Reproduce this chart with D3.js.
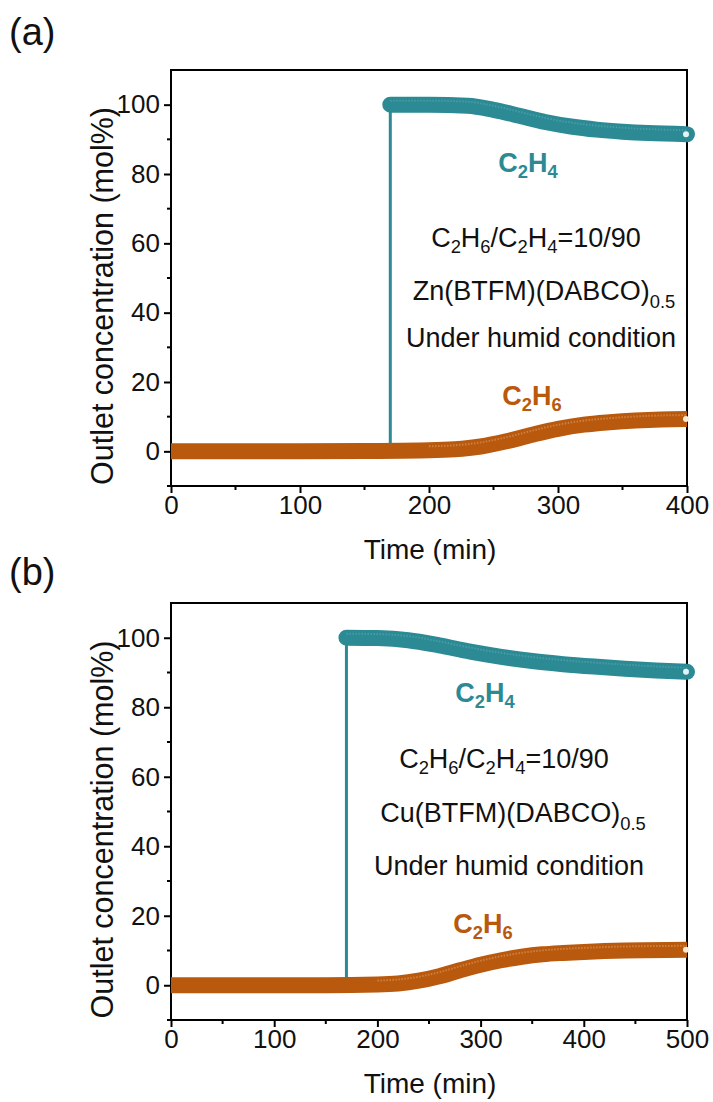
<!DOCTYPE html>
<html><head><meta charset="utf-8">
<script src="https://cdn.jsdelivr.net/npm/d3@7"></script>
<style>body{margin:0;background:#fff}svg{display:block;font-family:"Liberation Sans",Arial,sans-serif}</style>
</head><body>
<svg id="c" width="713" height="1102"></svg>
<script>
// Panel (a): Zn(BTFM)(DABCO)0.5
const a_c2h6_t = [0, 50, 100, 150, 200, 220, 240, 260, 280, 300, 320, 340, 360, 380, 400];
const a_c2h6_v = [0, 0, 0, 0.1, 0.3, 0.6, 1.4, 2.9, 4.8, 6.5, 7.7, 8.4, 8.9, 9.2, 9.3];
const a_c2h4_t = [170, 200, 230, 250, 270, 290, 310, 330, 350, 370, 400];
const a_c2h4_v = [100, 100, 99.7, 98.5, 96.8, 95.0, 93.7, 92.8, 92.2, 91.8, 91.5];
// Panel (b): Cu(BTFM)(DABCO)0.5
const b_c2h6_t = [0, 50, 100, 150, 200, 220, 240, 260, 280, 300, 320, 340, 360, 380, 400, 440, 500];
const b_c2h6_v = [0, 0, 0, 0, 0.2, 0.5, 1.3, 2.6, 4.3, 5.9, 7.2, 8.2, 8.9, 9.3, 9.6, 10.0, 10.2];
const b_c2h4_t = [170, 200, 230, 260, 290, 320, 350, 380, 410, 440, 470, 500];
const b_c2h4_v = [100, 99.9, 99.3, 97.8, 96.0, 94.5, 93.3, 92.4, 91.7, 91.1, 90.6, 90.2];
const breakthroughTime = 170;
const yTicks = [0, 20, 40, 60, 80, 100];
const aXTicks = [0, 100, 200, 300, 400];
const bXTicks = [0, 100, 200, 300, 400, 500];

const TEAL = "#2b8a94", ORANGE = "#b9590d";
const svg = d3.select("#c");

function panel(o) {
  const x = d3.scaleLinear().domain(o.xDomain).range([171, 687]);
  const y = d3.scaleLinear().domain([-10, 110]).range([o.bottom, o.top]);
  const g = svg.append("g");
  g.append("rect").attr("x", 171).attr("y", o.top).attr("width", 516).attr("height", o.bottom - o.top)
    .attr("fill", "none").attr("stroke", "#000").attr("stroke-width", 2);
  const xStep = o.xTicks[1] - o.xTicks[0];
  const xMinor = o.xTicks.slice(0, -1).map(t => t + xStep / 2);
  g.selectAll(".xm").data(xMinor).join("line").attr("x1", d => x(d)).attr("x2", d => x(d))
    .attr("y1", o.bottom).attr("y2", o.bottom + 4).attr("stroke", "#000").attr("stroke-width", 2);
  const yMinor = [-10, 10, 30, 50, 70, 90];
  g.selectAll(".ym").data(yMinor).join("line").attr("y1", d => y(d)).attr("y2", d => y(d))
    .attr("x1", 171).attr("x2", 167).attr("stroke", "#000").attr("stroke-width", 2);
  const xa = g.append("g").attr("transform", `translate(0,${o.bottom})`)
    .call(d3.axisBottom(x).tickValues(o.xTicks).tickSize(7).tickPadding(3).tickFormat(d3.format("d")));
  const ya = g.append("g").attr("transform", `translate(171,0)`)
    .call(d3.axisLeft(y).tickValues(yTicks).tickSize(7).tickPadding(4).tickFormat(d3.format("d")));
  [xa, ya].forEach(a => {
    a.select(".domain").remove();
    a.selectAll("line").attr("stroke-width", 2);
    a.selectAll("text").attr("font-size", 26).attr("fill", "#111").attr("font-family", "Liberation Sans, Arial, sans-serif");
  });
  g.append("text").attr("x", 430).attr("y", o.bottom + 73).attr("text-anchor", "middle")
    .attr("font-size", 28).attr("fill", "#111").text("Time (min)");
  g.append("text").attr("transform", `translate(113,${(o.top + o.bottom) / 2 + 18}) rotate(-90)`)
    .attr("text-anchor", "middle").attr("font-size", 30.5).attr("fill", "#111").text("Outlet concentration (mol%)");
  g.append("text").attr("x", 9).attr("y", o.tagY).attr("font-size", 38).attr("fill", "#111").text(o.tag);

  const line = d3.line().x(d => x(d[0])).y(d => y(d[1])).curve(d3.curveMonotoneX);
  const c2h6 = d3.zip(o.c2h6t, o.c2h6v);
  const c2h4 = d3.zip(o.c2h4t, o.c2h4v);
  g.append("line").attr("x1", x(breakthroughTime)).attr("x2", x(breakthroughTime))
    .attr("y1", y(0)).attr("y2", y(100)).attr("stroke", TEAL).attr("stroke-width", 3);
  g.append("path").attr("d", line(c2h6)).attr("fill", "none").attr("stroke", ORANGE)
    .attr("stroke-width", 16).attr("stroke-linecap", "butt");
  g.append("path").attr("d", line(c2h6.filter(d => d[0] >= 160))).attr("fill", "none")
    .attr("stroke", "#d68a4a").attr("stroke-width", 2).attr("stroke-dasharray", "1.5,1.5")
    .attr("transform", "translate(0,-4)").attr("opacity", 0.8);
  g.append("path").attr("d", line(c2h4)).attr("fill", "none").attr("stroke", TEAL)
    .attr("stroke-width", 16).attr("stroke-linecap", "round");
  g.append("path").attr("d", line(c2h4)).attr("fill", "none")
    .attr("stroke", "#5aa9b0").attr("stroke-width", 2).attr("stroke-dasharray", "1.5,1.5")
    .attr("transform", "translate(0,-4)").attr("opacity", 0.6);
  const e6 = c2h6[c2h6.length - 1], e4 = c2h4[c2h4.length - 1];
  g.append("circle").attr("cx", x(e6[0]) - 1).attr("cy", y(e6[1])).attr("r", 3).attr("fill", "#fbe9d8");
  g.append("circle").attr("cx", x(e4[0]) - 1).attr("cy", y(e4[1])).attr("r", 3).attr("fill", "#e4f3f4");

  const ann = (xx, yy, parts, size, weight, fill) => {
    const t = g.append("text").attr("x", xx).attr("y", yy).attr("text-anchor", "middle")
      .attr("font-size", size).attr("font-weight", weight).attr("fill", fill);
    parts.forEach(p => {
      const ts = t.append("tspan").text(p[0]);
      if (p[1] !== undefined) ts.attr("dy", p[1]);
      if (p[2]) ts.attr("font-size", size * 0.68);
    });
    return t;
  };
  ann(o.lab4[0], o.lab4[1], [["C"], ["2", 6, true], ["H", -6], ["4", 6, true]], 27, "bold", TEAL);
  ann(o.lab6[0], o.lab6[1], [["C"], ["2", 6, true], ["H", -6], ["6", 6, true]], 27, "bold", ORANGE);
  ann(o.l1[0], o.l1[1], [["C"], ["2", 6, true], ["H", -6], ["6", 6, true], ["/C", -6], ["2", 6, true], ["H", -6], ["4", 6, true], ["=10/90", -6]], 27, "normal", "#111");
  ann(o.l2[0], o.l2[1], [[o.mof + "(BTFM)(DABCO)"], ["0.5", 8, true]], 27, "normal", "#111");
  ann(o.l3[0], o.l3[1], [["Under humid condition"]], 27, "normal", "#111");
}

panel({tag: "(a)", tagY: 45, top: 70, bottom: 486, xDomain: [0, 400], xTicks: aXTicks,
  c2h6t: a_c2h6_t, c2h6v: a_c2h6_v, c2h4t: a_c2h4_t, c2h4v: a_c2h4_v,
  lab4: [528, 172], lab6: [532, 405], l1: [536, 247], l2: [544, 300], l3: [541, 347], mof: "Zn"});
panel({tag: "(b)", tagY: 585, top: 603, bottom: 1020, xDomain: [0, 500], xTicks: bXTicks,
  c2h6t: b_c2h6_t, c2h6v: b_c2h6_v, c2h4t: b_c2h4_t, c2h4v: b_c2h4_v,
  lab4: [485, 702], lab6: [483, 933], l1: [504, 768], l2: [513, 822], l3: [509, 875], mof: "Cu"});
</script>
</body></html>
